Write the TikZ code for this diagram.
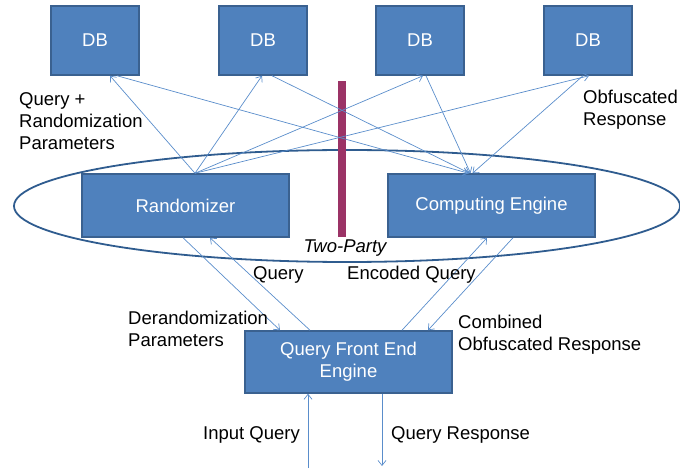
\documentclass[tikz,border=0pt]{standalone}
\usepackage{fontspec}
\setmainfont{Liberation Sans}
\usetikzlibrary{arrows.meta}

\definecolor{caixa}{HTML}{4F81BD}
\definecolor{borda}{HTML}{3A6190}
\definecolor{seta}{HTML}{5A8DCB}
\definecolor{elipse}{HTML}{2F5C8F}
\definecolor{barra}{HTML}{9B3366}

\tikzset{
	bloco/.style={draw=borda, fill=caixa, text=white, line width=1.5pt, inner sep=0pt, align=center, font=\fontsize{18.5}{22}\selectfont},
	rotulo/.style={anchor=west, inner sep=0pt, align=left, font=\fontsize{18.5}{22}\selectfont},
	liga/.style={draw=seta, line width=0.7pt, -{Straight Barb[length=5pt,width=8pt]}}
}

\begin{document}
\begin{tikzpicture}[x=1pt,y=-1pt]
			\useasboundingbox (0,0) rectangle (680,470);
			
			%desenhando a elipse e a barra
			\draw[elipse, line width=1.8pt] (347,206) ellipse [x radius=333, y radius=56];
			\fill[barra] (338,81) rectangle (346,237);
			
			%desenhando as caixas
			\node[bloco, minimum width=88pt, minimum height=69pt] (db1) at (95,40.5) {DB};
			\node[bloco, minimum width=88pt, minimum height=69pt] (db2) at (263,40.5) {DB};
			\node[bloco, minimum width=88pt, minimum height=69pt] (db3) at (420,40.5) {DB};
			\node[bloco, minimum width=88pt, minimum height=69pt] (db4) at (588,40.5) {DB};
			\node[bloco, minimum width=207pt, minimum height=63pt] (rand) at (185.5,205.5) {Randomizer};
			\node[bloco, minimum width=207pt, minimum height=63pt] (comp) at (491.5,205.5) {Computing Engine};
			\node[bloco, minimum width=207pt, minimum height=62pt] (front) at (348.5,362) {Query Front End\\Engine};
			
			%pontas soltas
			\coordinate (entrada) at (308,468);
			\coordinate (saida) at (382,466);
			
			%setas do randomizer para os DB
			\draw[liga] ([xshift=9.5pt]rand.north) -- ([xshift=15pt]db1.south);
			\draw[liga] ([xshift=9.5pt]rand.north) -- ([xshift=-1pt]db2.south);
			\draw[liga] ([xshift=9.5pt]rand.north) -- ([xshift=3pt]db3.south);
			\draw[liga] ([xshift=9.5pt]rand.north) -- ([xshift=1pt]db4.south);
			
			%setas dos DB para o computing engine
			\draw[liga] ([xshift=22pt]db1.south) -- ([xshift=-23pt]comp.north);
			\draw[liga] ([xshift=9pt]db2.south) -- ([xshift=-22pt]comp.north);
			\draw[liga] ([xshift=6pt]db3.south) -- ([xshift=-21pt]comp.north);
			\draw[liga] ([xshift=-5pt]db4.south) -- ([xshift=-19pt]comp.north);
			
			%setas de baixo
			\draw[liga] ([xshift=-2.5pt]rand.south) -- ([xshift=-68.5pt]front.north);
			\draw[liga] ([xshift=-38.5pt]front.north) -- ([xshift=24.5pt]rand.south);
			\draw[liga] ([xshift=53.5pt]front.north) -- ([xshift=-4.5pt]comp.south);
			\draw[liga] ([xshift=21.5pt]comp.south) -- ([xshift=79.5pt]front.north);
			\draw[liga] (entrada) -- (front.south -| entrada);
			\draw[liga] (front.south -| saida) -- (saida);
			
			%marcando labels
			\node[rotulo] (l1) at (19,121) {Query +\\Randomization\\Parameters};
			\node[rotulo] (l2) at (583,110) {Obfuscated\\Response};
			\node[rotulo, anchor=center] (l3) at (345,248) {\itshape Two-Party};
			\node[rotulo] (l4) at (253,275) {Query};
			\node[rotulo] (l5) at (347,275) {Encoded Query};
			\node[rotulo] (l6) at (128,329) {Derandomization\\Parameters};
			\node[rotulo] (l7) at (458,335) {Combined\\Obfuscated Response};
			\node[rotulo] (l8) at (203,435) {Input Query};
			\node[rotulo] (l9) at (391,435) {Query Response};
		\end{tikzpicture}
\end{document}
